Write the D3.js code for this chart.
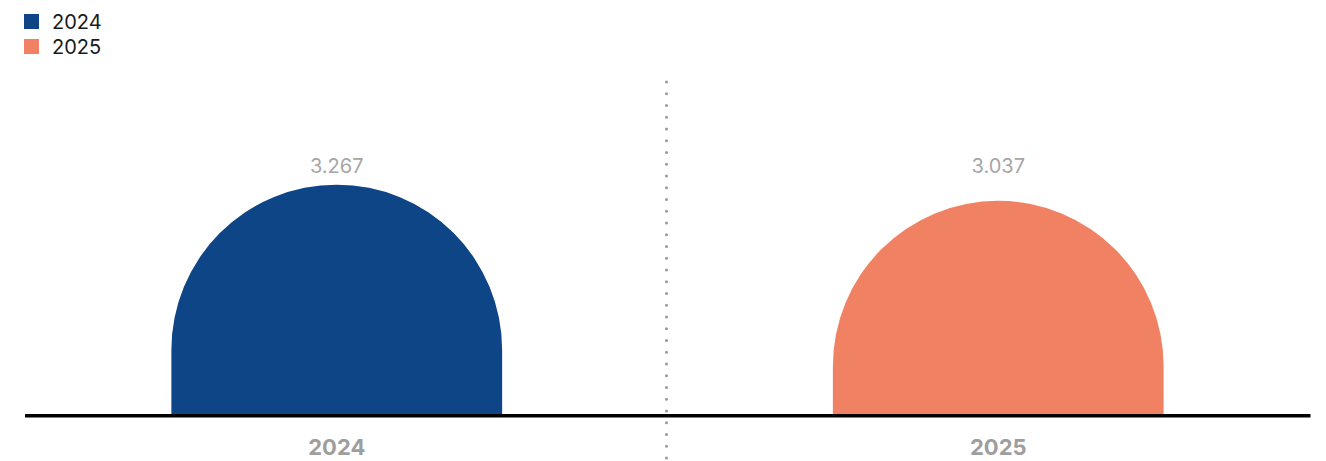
<!DOCTYPE html>
<html>
<head>
<meta charset="utf-8">
<script src="https://cdn.jsdelivr.net/npm/d3@7"></script>
<style>
  html, body { margin: 0; padding: 0; background: #fff; }
  svg { display: block; font-family: Inter, "Noto Sans", sans-serif; }
</style>
</head>
<body>
<svg id="chart" width="1326" height="461"></svg>
<script>
// Data
const categories = ["2024", "2025"];
const values = [3.267, 3.037];
const valueLabels = ["3.267", "3.037"];
const colors = ["#0D4586", "#F08263"];

const width = 1326, height = 461;
const svg = d3.select("#chart");

// Scales
const x = d3.scaleBand().domain(categories).range([6, 1329]).padding(0);
const y = d3.scaleLinear().domain([0, 4.75]).range([414, 80.6]);
const barW = x.bandwidth() * 0.5;

// Legend
const legend = svg.append("g").attr("class", "legend");
categories.forEach((c, i) => {
  const g = legend.append("g").attr("transform", `translate(24,${14 + i * 25})`);
  g.append("rect").attr("width", 15).attr("height", 15).attr("fill", colors[i]);
  g.append("text").attr("x", 28).attr("y", 14.5)
    .attr("font-size", 20).attr("fill", "#1a1a1a").text(c);
});

// Dotted divider between categories
const divX = x(categories[1]) - 1;
svg.append("line")
  .attr("x1", divX).attr("x2", divX)
  .attr("y1", 82).attr("y2", height + 4)
  .attr("stroke", "#999").attr("stroke-width", 3)
  .attr("stroke-linecap", "round")
  .attr("stroke-dasharray", "0,11.75");

// Bars with a semicircular cap
function capBar(cx, v) {
  const r = barW / 2;
  const x0 = cx - r, x1 = cx + r;
  const yb = y(0), yt = y(v);
  const p = d3.path();
  p.moveTo(x0, yb);
  p.lineTo(x0, yt + r);
  p.arc(cx, yt + r, r, Math.PI, 0);
  p.lineTo(x1, yb);
  p.closePath();
  return p.toString();
}

svg.append("g").selectAll("path")
  .data(categories)
  .join("path")
  .attr("d", (c, i) => capBar(x(c) + x.bandwidth() / 2, values[i]))
  .attr("fill", (c, i) => colors[i]);

// Value labels
const labelY = y(d3.max(values)) - 12;
svg.append("g").selectAll("text")
  .data(categories)
  .join("text")
  .attr("x", c => x(c) + x.bandwidth() / 2)
  .attr("y", labelY)
  .attr("text-anchor", "middle")
  .attr("font-size", 20)
  .attr("fill", "#a6a6a6")
  .text((c, i) => valueLabels[i]);

// Baseline
svg.append("line")
  .attr("x1", 25).attr("x2", 1310.5)
  .attr("y1", y(0) + 1.75).attr("y2", y(0) + 1.75)
  .attr("stroke", "#000").attr("stroke-width", 3.5);

// Category axis
const axis = d3.axisBottom(x).tickSize(0).tickPadding(0);
const ax = svg.append("g").attr("transform", `translate(0,${y(0)})`).call(axis);
ax.select(".domain").remove();
ax.selectAll("text")
  .attr("dy", null)
  .attr("y", 41)
  .attr("font-size", 22)
  .attr("font-weight", 700)
  .attr("font-family", "Inter, 'Noto Sans', sans-serif")
  .attr("fill", "#9e9e9e");
</script>
</body>
</html>
